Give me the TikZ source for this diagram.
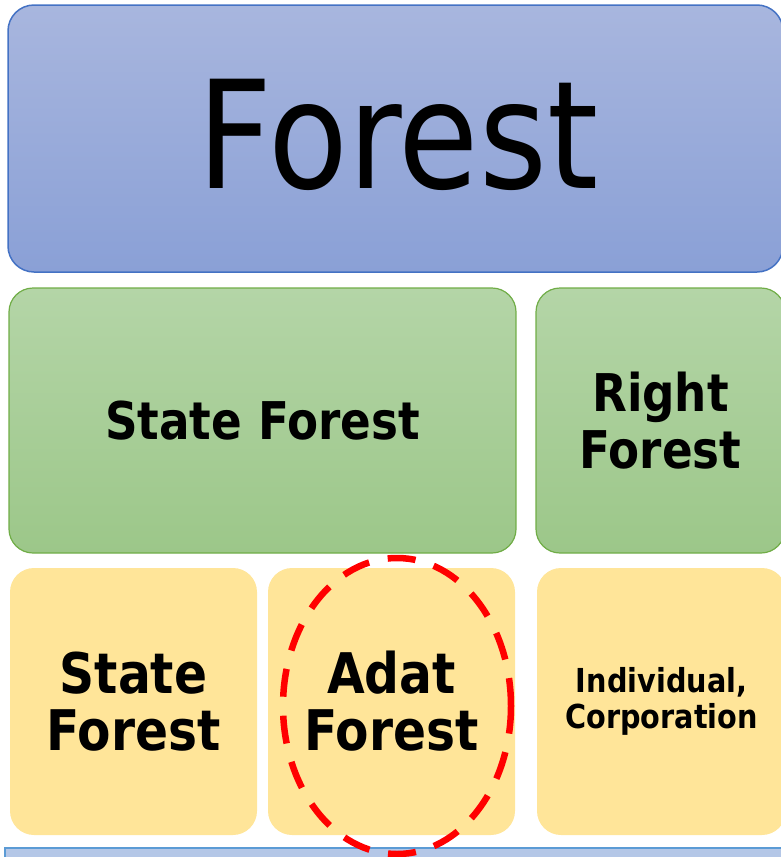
\documentclass[tikz,border=0pt]{standalone}
\usepackage{fontspec}
\setmainfont[FakeStretch=0.87]{DejaVu Sans}
\usetikzlibrary{shapes.geometric}
\definecolor{bluetop}{HTML}{A8B6DE}
\definecolor{bluebot}{HTML}{8AA0D6}
\definecolor{blueline}{HTML}{4472C4}
\definecolor{greentop}{HTML}{B4D5A7}
\definecolor{greenbot}{HTML}{9CC789}
\definecolor{greenline}{HTML}{70AD47}
\definecolor{yellowfill}{HTML}{FFE599}
\definecolor{stripfill}{HTML}{B4C7E7}
\definecolor{stripline}{HTML}{5B9BD5}
\tikzset{
  bluebox/.style={draw=blueline, line width=1.5pt, rounded corners=26pt, top color=bluetop, bottom color=bluebot, inner sep=0pt},
  greenbox/.style={draw=greenline, line width=1.2pt, rounded corners=24pt, top color=greentop, bottom color=greenbot, inner sep=0pt, align=center, font=\fontsize{52}{57}\selectfont\bfseries},
  yellowbox/.style={fill=yellowfill, rounded corners=24pt, inner sep=0pt, align=center, font=\fontsize{56}{57}\selectfont\bfseries},
  redring/.style={draw=red, line width=6.5pt, dash pattern=on 28pt off 19pt, ellipse, inner sep=0pt}
}
\begin{document}
\begin{tikzpicture}[x=1pt,y=-1pt]
\useasboundingbox (0,0) rectangle (781,857);
\node[bluebox, minimum width=775pt, minimum height=267pt] (top) at (395.5,138.5) {};
\node[font=\fontsize{150}{150}\selectfont] (title) at (398,135) {Forest};
\node[greenbox, minimum width=507pt, minimum height=265pt] (state) at (262.5,420.5) {State Forest};
\node[greenbox, minimum width=249pt, minimum height=265pt] (right) at (660.5,420.5) {Right\\Forest};
\node[yellowbox, minimum width=247pt, minimum height=267pt] (y1) at (133.5,701.5) {State\\Forest};
\node[yellowbox, minimum width=247pt, minimum height=267pt] (y2) at (391.5,701.5) {Adat\\Forest};
\node[yellowbox, minimum width=249pt, minimum height=267pt, font=\fontsize{33}{36}\selectfont\bfseries] (y3) at (661.5,701.5) {Individual,\\Corporation};
\node[draw=stripline, line width=1.2pt, fill=stripfill, minimum width=790pt, minimum height=30pt, inner sep=0pt] (strip) at (400,863) {};
\node[redring, minimum width=228pt, minimum height=296pt] (ring) at (397,706) {};
\end{tikzpicture}
\end{document}
